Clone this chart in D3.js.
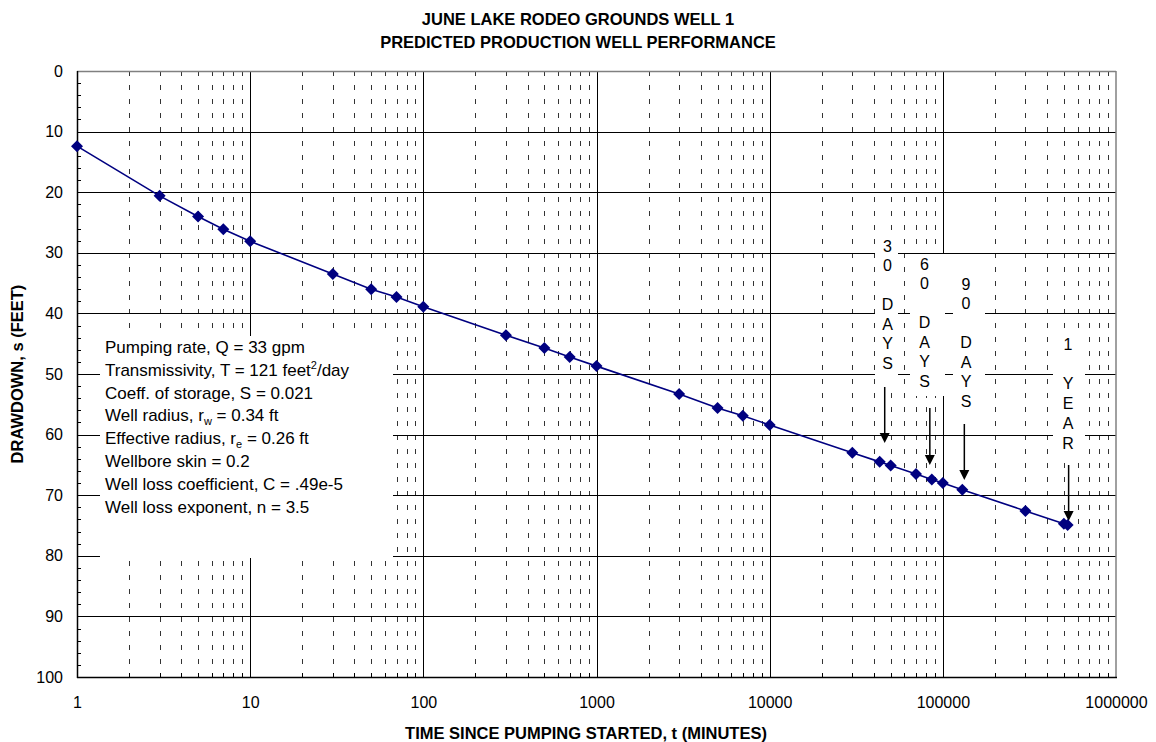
<!DOCTYPE html>
<html>
<head>
<meta charset="utf-8">
<script src="https://cdn.jsdelivr.net/npm/d3@7"></script>
<style>
  html, body { margin: 0; padding: 0; background: #fff; }
  svg { display: block; font-family: Arial, "Liberation Sans", sans-serif; }
</style>
</head>
<body>
<svg id="chart" width="1156" height="742"></svg>
<script>
// Predicted drawdown vs. time since pumping started
const times = [1, 3, 5, 7, 10, 30, 50, 70, 100, 300, 500, 700, 1000, 3000, 5000, 7000,
               10000, 30000, 43200, 50000, 70000, 86400, 100000, 129600, 300000, 500000, 525600];
const drawdown = [12.4, 20.6, 24.0, 26.1, 28.1, 33.5, 36.0, 37.3, 38.9, 43.6, 45.7, 47.2, 48.7,
                  53.3, 55.6, 56.9, 58.4, 63.0, 64.5, 65.1, 66.5, 67.4, 68.0, 69.1, 72.6, 74.7, 74.9];

const xTickValues = [1, 10, 100, 1000, 10000, 100000, 1000000];
const yTickValues = [0, 10, 20, 30, 40, 50, 60, 70, 80, 90, 100];

const titleLines = ["JUNE LAKE RODEO GROUNDS WELL 1", "PREDICTED PRODUCTION WELL PERFORMANCE"];
const xTitle = "TIME SINCE PUMPING STARTED, t (MINUTES)";
const yTitle = "DRAWDOWN, s (FEET)";

// Milestone call-outs: time (minutes) and the stacked characters of the label
const milestoneTimes = [43200, 86400, 129600, 525600];
const milestoneLabels = [
  ["3", "0", "", "D", "A", "Y", "S"],
  ["6", "0", "", "D", "A", "Y", "S"],
  ["9", "0", "", "D", "A", "Y", "S"],
  ["1", "", "Y", "E", "A", "R"]
];

// Aquifer / well parameters (segments: [text, baseline shift])
const paramLines = [
  [["Pumping rate, Q = 33 gpm", null]],
  [["Transmissivity, T = 121 feet", null], ["2", "super"], ["/day", null]],
  [["Coeff. of storage, S = 0.021", null]],
  [["Well radius, r", null], ["w", "sub"], [" = 0.34 ft", null]],
  [["Effective radius, r", null], ["e", "sub"], [" = 0.26 ft", null]],
  [["Wellbore skin = 0.2", null]],
  [["Well loss coefficient, C = .49e-5", null]],
  [["Well loss exponent, n = 3.5", null]]
];

const svg = d3.select("#chart");
const plot = { left: 77, top: 71, right: 1116, bottom: 677 };

const x = d3.scaleLog().domain([1, 1e6]).range([plot.left, plot.right]);
const y = d3.scaleLinear().domain([0, 100]).range([plot.top, plot.bottom]);

// ---- grid ----
const grid = svg.append("g");
const minorX = [];
for (let e = 0; e < 6; e++) for (let m = 2; m <= 9; m++) minorX.push(m * Math.pow(10, e));

grid.selectAll("line.minor").data(minorX).join("line")
  .attr("x1", d => Math.round(x(d)) + 0.5).attr("x2", d => Math.round(x(d)) + 0.5)
  .attr("y1", plot.top).attr("y2", plot.bottom)
  .attr("stroke", "#333").attr("stroke-width", 1).attr("stroke-dasharray", "5,9");

grid.selectAll("line.decade").data(xTickValues.slice(1, -1)).join("line")
  .attr("x1", d => Math.round(x(d)) + 0.5).attr("x2", d => Math.round(x(d)) + 0.5)
  .attr("y1", plot.top).attr("y2", plot.bottom)
  .attr("stroke", "#000").attr("stroke-width", 1);

grid.selectAll("line.h").data(yTickValues.slice(1, -1)).join("line")
  .attr("x1", plot.left).attr("x2", plot.right)
  .attr("y1", d => Math.round(y(d)) + 0.5).attr("y2", d => Math.round(y(d)) + 0.5)
  .attr("stroke", "#000").attr("stroke-width", 1);

// ---- white label panels laid over the grid ----
const panels = svg.append("g");
// parameter panel
panels.append("rect").attr("x", 100).attr("y", 336).attr("width", 293).attr("height", 222).attr("fill", "#fff");

// milestone panels: [left, right, top, bottom, first-line centre, line step]
const milestoneLayout = [
  { l: 875, r: 898, t: 237, b: 385, c: 887.5, first: 246, step: 19.5, ax: 5, a0: 387, a1: 443 },
  { l: 910, r: 945, t: 254, b: 396, c: 924.5, first: 264, step: 19.5, ax: -2, a0: 408, a1: 465 },
  { l: 953, r: 985, t: 274, b: 412, c: 966, first: 284, step: 19.5, ax: 2, a0: 424, a1: 480 },
  { l: 1053, r: 1085, t: 332, b: 460, c: 1068, first: 344, step: 19.8, ax: 1, a0: 465, a1: 521 }
];
milestoneLayout.forEach(m => {
  panels.append("rect").attr("x", m.l).attr("y", m.t).attr("width", m.r - m.l).attr("height", m.b - m.t).attr("fill", "#fff");
});

// ---- plot frame ----
svg.append("line").attr("x1", plot.left).attr("x2", plot.right).attr("y1", plot.top + 0.5).attr("y2", plot.top + 0.5)
  .attr("stroke", "#808080").attr("stroke-width", 1.5);
svg.append("line").attr("x1", plot.right).attr("x2", plot.right).attr("y1", plot.top).attr("y2", plot.bottom)
  .attr("stroke", "#808080").attr("stroke-width", 1.5);

// y axis: labels + minor inward ticks
const yAxis = d3.axisLeft(y).tickValues(yTickValues).tickSize(0).tickPadding(14);
const gy = svg.append("g").attr("transform", `translate(${plot.left},0)`).call(yAxis);
gy.select(".domain").remove();
gy.selectAll("text").attr("font-size", 16).attr("fill", "#000").attr("font-family", "Arial, 'Liberation Sans', sans-serif");

const yMinor = d3.range(2, 100, 2).filter(v => v % 10 !== 0);
svg.append("g").selectAll("line").data(yMinor).join("line")
  .attr("x1", plot.left).attr("x2", plot.left + 4)
  .attr("y1", d => Math.round(y(d)) + 0.5).attr("y2", d => Math.round(y(d)) + 0.5)
  .attr("stroke", "#000").attr("stroke-width", 1);

// x axis: labels + minor inward ticks
const xAxis = d3.axisBottom(x).tickValues(xTickValues).tickFormat(d3.format("d")).tickSize(0).tickPadding(20);
const gx = svg.append("g").attr("transform", `translate(0,${plot.bottom})`).call(xAxis);
gx.select(".domain").remove();
gx.selectAll("text").attr("font-size", 16).attr("fill", "#000").attr("font-family", "Arial, 'Liberation Sans', sans-serif");

svg.append("g").selectAll("line").data(minorX).join("line")
  .attr("x1", d => Math.round(x(d)) + 0.5).attr("x2", d => Math.round(x(d)) + 0.5)
  .attr("y1", plot.bottom - 4).attr("y2", plot.bottom)
  .attr("stroke", "#000").attr("stroke-width", 1);

svg.append("line").attr("x1", plot.left + 0.5).attr("x2", plot.left + 0.5).attr("y1", plot.top).attr("y2", plot.bottom + 1)
  .attr("stroke", "#000").attr("stroke-width", 1.5);
svg.append("line").attr("x1", plot.left).attr("x2", plot.right + 1).attr("y1", plot.bottom + 0.5).attr("y2", plot.bottom + 0.5)
  .attr("stroke", "#000").attr("stroke-width", 1.5);

// ---- parameter text ----
const pText = svg.append("g").attr("font-size", 17).attr("fill", "#000");
paramLines.forEach((segs, i) => {
  const t = pText.append("text").attr("x", 105).attr("y", 353 + i * 22.8);
  segs.forEach(([s, shift], k) => {
    const sp = t.append("tspan").text(s);
    if (shift === "super") sp.attr("font-size", 11).attr("dy", -7);
    else if (shift === "sub") sp.attr("font-size", 11).attr("dy", 4);
    else if (k > 0 && segs[k - 1][1] === "super") sp.attr("dy", 7);
    else if (k > 0 && segs[k - 1][1] === "sub") sp.attr("dy", -4);
  });
});

// ---- milestone labels and arrows ----
const mg = svg.append("g").attr("font-size", 16).attr("fill", "#000").attr("text-anchor", "middle");
milestoneTimes.forEach((t, i) => {
  const m = milestoneLayout[i];
  milestoneLabels[i].forEach((ch, k) => {
    if (!ch) return;
    mg.append("text").attr("x", m.c).attr("y", m.first + k * m.step).attr("dy", "0.35em").text(ch);
  });
  const ax = x(t) + m.ax;
  mg.append("line").attr("x1", ax).attr("x2", ax).attr("y1", m.a0).attr("y2", m.a1 - 9)
    .attr("stroke", "#000").attr("stroke-width", 1.5);
  mg.append("path").attr("d", `M${ax - 5},${m.a1 - 10} L${ax + 5},${m.a1 - 10} L${ax},${m.a1} Z`).attr("fill", "#000");
});

// ---- drawdown curve ----
const pts = times.map((t, i) => [t, drawdown[i]]);
svg.append("path").datum(pts)
  .attr("d", d3.line().x(d => x(d[0])).y(d => y(d[1])))
  .attr("fill", "none").attr("stroke", "#000080").attr("stroke-width", 1.6);
svg.append("g").selectAll("path").data(pts).join("path")
  .attr("transform", d => `translate(${x(d[0])},${y(d[1])})`)
  .attr("d", "M0,-6 L6,0 L0,6 L-6,0 Z")
  .attr("fill", "#000080");

// ---- titles ----
const tg = svg.append("g").attr("font-weight", "bold").attr("text-anchor", "middle").attr("fill", "#000");
titleLines.forEach((s, i) => {
  tg.append("text").attr("x", 578).attr("y", 25 + i * 23).attr("font-size", 16.5).text(s);
});
tg.append("text").attr("x", 586).attr("y", 739).attr("font-size", 16.5).text(xTitle);
tg.append("text").attr("transform", "translate(23,374) rotate(-90)").attr("font-size", 16.5).text(yTitle);
</script>
</body>
</html>
